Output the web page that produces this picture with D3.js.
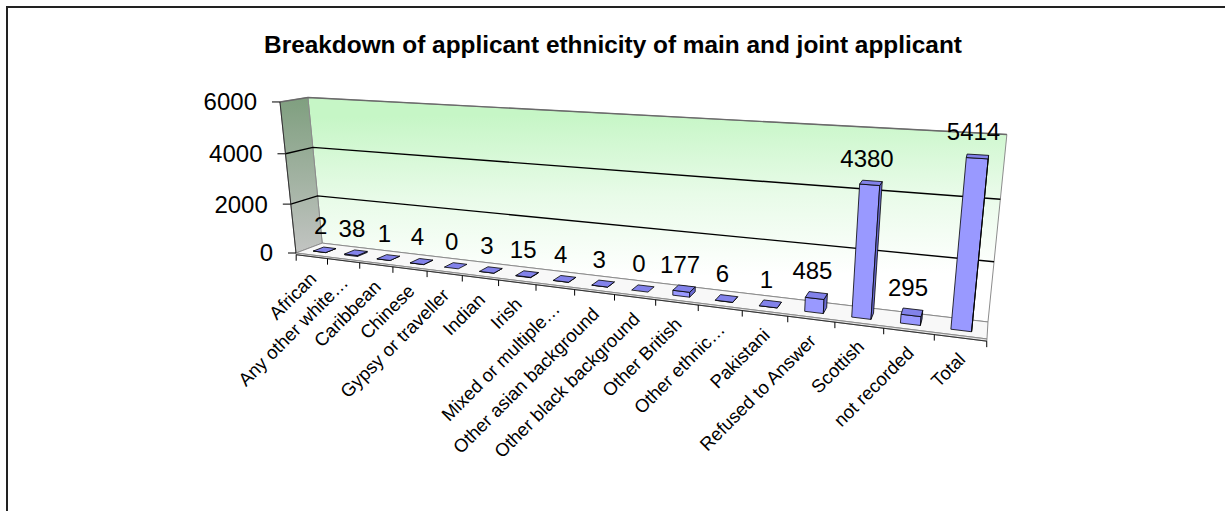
<!DOCTYPE html>
<html>
<head>
<meta charset="utf-8">
<script src="https://cdn.jsdelivr.net/npm/d3@7"></script>
<style>
	body { margin: 0; background: #fff; }
	svg { display: block; font-family: "Liberation Sans", Arial, sans-serif; }
</style>
</head>
<body>
<svg id="chart" width="1225" height="511"></svg>
<script>
var title = "Breakdown of applicant ethnicity of main and joint applicant";
var categories = ["African", "Any other white…", "Caribbean", "Chinese", "Gypsy or traveller", "Indian", "Irish",
	"Mixed or multiple…", "Other asian background", "Other black background", "Other British", "Other ethnic…",
	"Pakistani", "Refused to Answer", "Scottish", "not recorded", "Total"];
var values = [2, 38, 1, 4, 0, 3, 15, 4, 3, 0, 177, 6, 1, 485, 4380, 295, 5414];
var yTicks = [0, 2000, 4000, 6000];

var svg = d3.select("#chart");
var n = categories.length;

// Шкалы: категория -> u (0..n), значение -> v (0..1), глубина z (0 спереди, 1 сзади)
var x = d3.scaleBand().domain(categories).range([0, n]).paddingInner(0.6).paddingOuter(0.3),
	y = d3.scaleLinear().domain([0, d3.max(yTicks)]).range([0, 1]);

// Перспективная проекция (как у 3D-диаграммы Excel)
var P = {a: [454.1, -28.0, 38.5, 296], b: [4.6, -155.4, -0.6, 253], c: [-0.24, -0.0428, 0.0382]};
function proj(u, v, z) {
	var U = u / n;
	var w = 1 + P.c[0] * U + P.c[1] * v + P.c[2] * z;
	return [(P.a[0] * U + P.a[1] * v + P.a[2] * z + P.a[3]) / w,
		(P.b[0] * U + P.b[1] * v + P.b[2] * z + P.b[3]) / w];
}
function pts(list) { return list.map(function(p) { return p.join(","); }).join(" "); }
function area(list) {
	var s = 0;
	for (var i = 0; i < list.length; i++) {
		var a = list[i], b = list[(i + 1) % list.length];
		s += a[0] * b[1] - b[0] * a[1];
	}
	return s / 2;
}

// рамка
svg.append("rect")
	.attr("x", 7).attr("y", 7)
	.attr("width", 1240).attr("height", 530)
	.attr("fill", "none").attr("stroke", "#222").attr("stroke-width", 2);

svg.append("text")
	.attr("x", 613).attr("y", 53)
	.attr("text-anchor", "middle")
	.attr("font-size", 24.4).attr("font-weight", "bold")
	.text(title);

// градиенты стен
var defs = svg.append("defs");
var gTop = proj(n / 2, 1, 1), gBot = proj(n / 2, 0, 1);
var backGrad = defs.append("linearGradient").attr("id", "backGrad")
	.attr("gradientUnits", "userSpaceOnUse")
	.attr("x1", gTop[0]).attr("y1", gTop[1]).attr("x2", gBot[0]).attr("y2", gBot[1]);
backGrad.append("stop").attr("offset", 0).attr("stop-color", "#c6f6c6");
backGrad.append("stop").attr("offset", 0.5).attr("stop-color", "#e8fbe8");
backGrad.append("stop").attr("offset", 1).attr("stop-color", "#ffffff");

var sideGrad = defs.append("linearGradient").attr("id", "sideGrad")
	.attr("x1", 0).attr("y1", 0).attr("x2", 0).attr("y2", 1);
sideGrad.append("stop").attr("offset", 0).attr("stop-color", "#7f9f7f");
sideGrad.append("stop").attr("offset", 1).attr("stop-color", "#c2c4c2");

// стены и пол
var floorT = 0.012;
svg.append("polygon")
	.attr("points", pts([proj(0, 0, 1), proj(n, 0, 1), proj(n, 1, 1), proj(0, 1, 1)]))
	.attr("fill", "url(#backGrad)").attr("stroke", "#8c8c8c");
svg.append("polygon")
	.attr("points", pts([proj(0, 0, 0), proj(0, 0, 1), proj(0, 1, 1), proj(0, 1, 0)]))
	.attr("fill", "url(#sideGrad)").attr("stroke", "#8c8c8c");
svg.append("polygon")
	.attr("points", pts([proj(0, 0, 0), proj(n, 0, 0), proj(n, 0, 1), proj(0, 0, 1)]))
	.attr("fill", "#f8f8f8").attr("stroke", "#8c8c8c");
svg.append("polygon")
	.attr("points", pts([proj(0, 0, 0), proj(n, 0, 0), proj(n, -floorT, 0), proj(0, -floorT, 0)]))
	.attr("fill", "#e4e4e4").attr("stroke", "#8c8c8c");

// линии сетки
svg.append("g").selectAll("polyline")
	.data(yTicks.filter(function(t) { return t > 0; }))
	.enter().append("polyline")
	.attr("points", function(t) { var v = y(t); return pts([proj(0, v, 0), proj(0, v, 1), proj(n, v, 1)]); })
	.attr("fill", "none")
	.attr("stroke", function(t) { return t === d3.max(yTicks) ? "#6a6a6a" : "#000"; })
	.attr("stroke-width", 1.4);

// ось Y
var y0 = proj(0, 0, 0), y1 = proj(0, 1, 0);
svg.append("line")
	.attr("x1", y0[0]).attr("y1", y0[1]).attr("x2", y1[0]).attr("y2", y1[1])
	.attr("stroke", "#333");
var yAxis = svg.append("g").selectAll("g")
	.data(yTicks)
	.enter().append("g")
	.attr("transform", function(t) { var p = proj(0, y(t), 0); return "translate(" + p[0] + "," + p[1] + ")"; });
yAxis.append("line").attr("x1", -8).attr("x2", 0).attr("stroke", "#000");
yAxis.append("text")
	.attr("x", -23).attr("dy", "0.35em")
	.attr("text-anchor", "end").attr("font-size", 24)
	.text(function(t) { return t; });

// ось X
var x0 = proj(0, -floorT, 0), x1 = proj(n, -floorT, 0);
svg.append("line")
	.attr("x1", x0[0]).attr("y1", x0[1]).attr("x2", x1[0]).attr("y2", x1[1])
	.attr("stroke", "#333");
svg.append("g").selectAll("line")
	.data(d3.range(n + 1))
	.enter().append("line")
	.attr("x1", function(i) { return proj(i, -floorT, 0)[0]; })
	.attr("y1", function(i) { return proj(i, -floorT, 0)[1]; })
	.attr("x2", function(i) { return proj(i, -floorT, 0)[0]; })
	.attr("y2", function(i) { return proj(i, -floorT, 0)[1] + 6; })
	.attr("stroke", "#000");

svg.append("g").selectAll("text")
	.data(categories)
	.enter().append("text")
	.attr("transform", function(c) {
		var p = proj(x(c) + x.bandwidth() / 2, 0, 0);
		return "translate(" + (p[0] + 6) + "," + (p[1] + 25) + ") rotate(-45)";
	})
	.attr("text-anchor", "end").attr("font-size", 18.5)
	.text(function(c) { return c; });

// столбики (слева направо — правые ближе к зрителю)
var z0 = 0.3, z1 = 0.7;
var colors = {front: "#9999ff", top: "#8282ea", right: "#6c6cd2", left: "#6c6cd2", back: "#8888ee"};
var bars = svg.append("g");
categories.forEach(function(c, i) {
	var u0 = x(c), u1 = u0 + x.bandwidth(), v1 = y(values[i]);
	var faces = [
		{k: "front", p: [proj(u0, 0, z0), proj(u1, 0, z0), proj(u1, v1, z0), proj(u0, v1, z0)]},
		{k: "back", p: [proj(u1, 0, z1), proj(u0, 0, z1), proj(u0, v1, z1), proj(u1, v1, z1)]},
		{k: "right", p: [proj(u1, 0, z0), proj(u1, 0, z1), proj(u1, v1, z1), proj(u1, v1, z0)]},
		{k: "left", p: [proj(u0, 0, z1), proj(u0, 0, z0), proj(u0, v1, z0), proj(u0, v1, z1)]},
		{k: "top", p: [proj(u0, v1, z0), proj(u1, v1, z0), proj(u1, v1, z1), proj(u0, v1, z1)]}
	];
	bars.selectAll(null)
		.data(faces.filter(function(f) { return area(f.p) < 0; }))
		.enter().append("polygon")
		.attr("points", function(f) { return pts(f.p); })
		.attr("fill", function(f) { return colors[f.k]; })
		.attr("stroke", "#000").attr("stroke-width", 0.8)
		.attr("stroke-linejoin", "round");
});

// подписи значений
svg.append("g").selectAll("text")
	.data(values)
	.enter().append("text")
	.attr("x", function(d, i) { return proj(x(categories[i]) + x.bandwidth() / 2, y(d), 0.5)[0] - 4; })
	.attr("y", function(d, i) { return proj(x(categories[i]) + x.bandwidth() / 2, y(d), 0.5)[1] - 16; })
	.attr("text-anchor", "middle").attr("font-size", 24)
	.text(function(d) { return d; });
</script>
</body>
</html>
